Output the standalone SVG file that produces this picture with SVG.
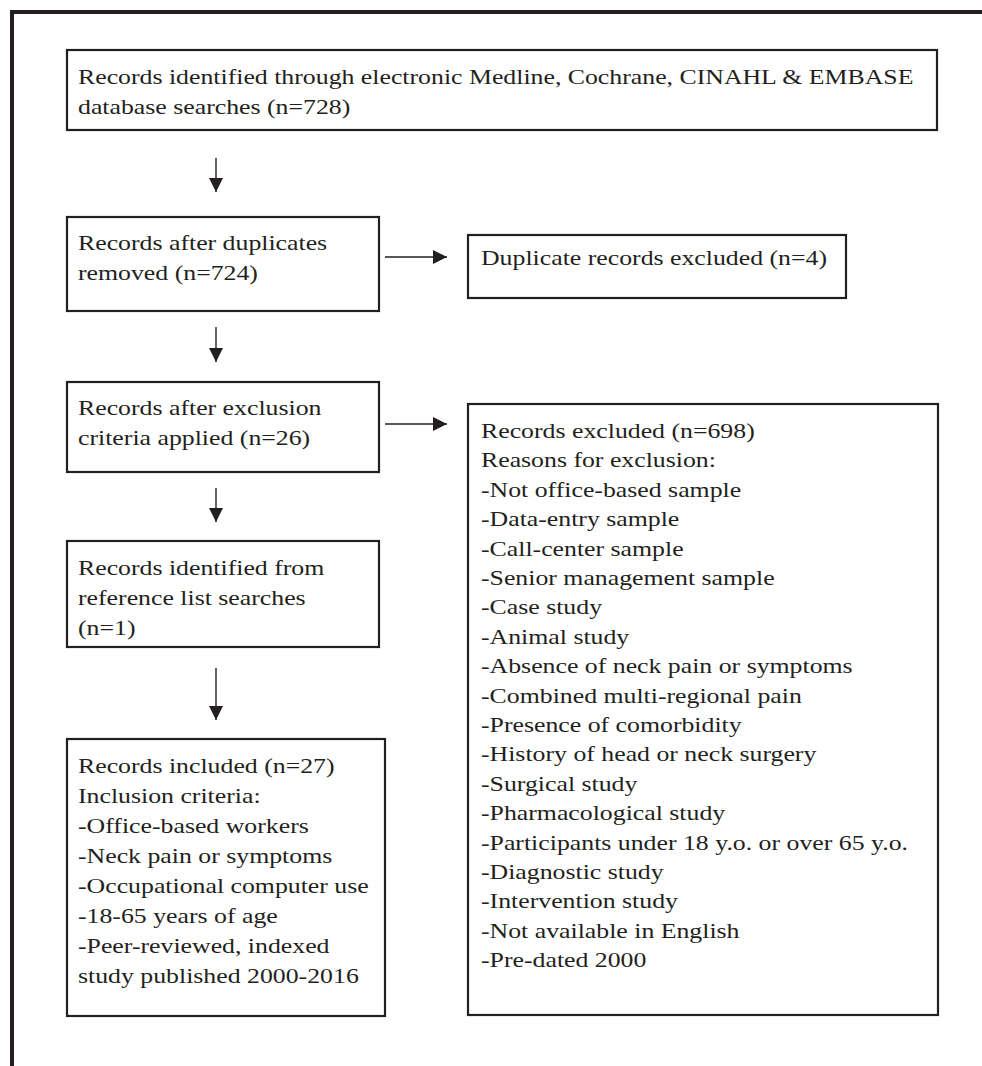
<svg xmlns="http://www.w3.org/2000/svg" width="982" height="1066" viewBox="0 0 982 1066">
<style>
.frame{stroke:#231f20;stroke-width:4;fill:none}
.box{fill:#fff;stroke:#231f20;stroke-width:2.2}
.t{font-family:"Liberation Serif","Times New Roman",serif;font-size:21.5px;fill:#231f20}
.c{stroke:#231f20;stroke-width:1.4;fill:none}
</style>
<defs>
<marker id="ah" viewBox="0 0 14 14" refX="14" refY="7" markerWidth="14" markerHeight="14" markerUnits="userSpaceOnUse" orient="auto">
<path d="M0,0 L14,7 L0,14 Z" fill="#231f20"/>
</marker>
</defs>
<rect width="982" height="1066" fill="#fff"/>
<path class="frame" d="M12,1066 V12 H982"/>

<g id="n1">
<rect class="box" x="67" y="50" width="870" height="80"/>
<text class="t" transform="translate(78,84) scale(1.2,1)"><tspan x="0" y="0">Records identified through electronic Medline, Cochrane, CINAHL &amp; EMBASE</tspan><tspan x="0" y="30">database searches (n=728)</tspan></text>
</g>

<g id="n2">
<rect class="box" x="67" y="217" width="312" height="94"/>
<text class="t" transform="translate(78,250) scale(1.2,1)"><tspan x="0" y="0">Records after duplicates</tspan><tspan x="0" y="30">removed (n=724)</tspan></text>
</g>

<g id="n3">
<rect class="box" x="468" y="235" width="378" height="63"/>
<text class="t" transform="translate(481,265) scale(1.2,1)">Duplicate records excluded (n=4)</text>
</g>

<g id="n4">
<rect class="box" x="67" y="382" width="312" height="90"/>
<text class="t" transform="translate(78,415) scale(1.2,1)"><tspan x="0" y="0">Records after exclusion</tspan><tspan x="0" y="30">criteria applied (n=26)</tspan></text>
</g>

<g id="n5">
<rect class="box" x="468" y="404" width="470" height="611"/>
<text class="t" transform="translate(481,438) scale(1.2,1)"><tspan x="0" y="0">Records excluded (n=698)</tspan><tspan x="0" y="29.4">Reasons for exclusion:</tspan><tspan x="0" y="58.8">-Not office-based sample</tspan><tspan x="0" y="88.2">-Data-entry sample</tspan><tspan x="0" y="117.6">-Call-center sample</tspan><tspan x="0" y="147">-Senior management sample</tspan><tspan x="0" y="176.4">-Case study</tspan><tspan x="0" y="205.8">-Animal study</tspan><tspan x="0" y="235.2">-Absence of neck pain or symptoms</tspan><tspan x="0" y="264.6">-Combined multi-regional pain</tspan><tspan x="0" y="294">-Presence of comorbidity</tspan><tspan x="0" y="323.4">-History of head or neck surgery</tspan><tspan x="0" y="352.8">-Surgical study</tspan><tspan x="0" y="382.2">-Pharmacological study</tspan><tspan x="0" y="411.6">-Participants under 18 y.o. or over 65 y.o.</tspan><tspan x="0" y="441">-Diagnostic study</tspan><tspan x="0" y="470.4">-Intervention study</tspan><tspan x="0" y="499.8">-Not available in English</tspan><tspan x="0" y="529.2">-Pre-dated 2000</tspan></text>
</g>

<g id="n6">
<rect class="box" x="67" y="541" width="312" height="106"/>
<text class="t" transform="translate(78,575) scale(1.2,1)"><tspan x="0" y="0">Records identified from</tspan><tspan x="0" y="30">reference list searches</tspan><tspan x="0" y="60">(n=1)</tspan></text>
</g>

<g id="n7">
<rect class="box" x="67" y="739" width="318" height="277"/>
<text class="t" transform="translate(78,773) scale(1.2,1)"><tspan x="0" y="0">Records included (n=27)</tspan><tspan x="0" y="30">Inclusion criteria:</tspan><tspan x="0" y="60">-Office-based workers</tspan><tspan x="0" y="90">-Neck pain or symptoms</tspan><tspan x="0" y="120">-Occupational computer use</tspan><tspan x="0" y="150">-18-65 years of age</tspan><tspan x="0" y="180">-Peer-reviewed, indexed</tspan><tspan x="0" y="210">study published 2000-2016</tspan></text>
</g>

<g id="connectors">
<line class="c" x1="216" y1="158" x2="216" y2="192" marker-end="url(#ah)"/>
<line class="c" x1="216" y1="327" x2="216" y2="362" marker-end="url(#ah)"/>
<line class="c" x1="216" y1="488" x2="216" y2="522" marker-end="url(#ah)"/>
<line class="c" x1="216" y1="668" x2="216" y2="720" marker-end="url(#ah)"/>
<line class="c" x1="385" y1="257" x2="447" y2="257" marker-end="url(#ah)"/>
<line class="c" x1="385" y1="424" x2="447" y2="424" marker-end="url(#ah)"/>
</g>
</svg>
